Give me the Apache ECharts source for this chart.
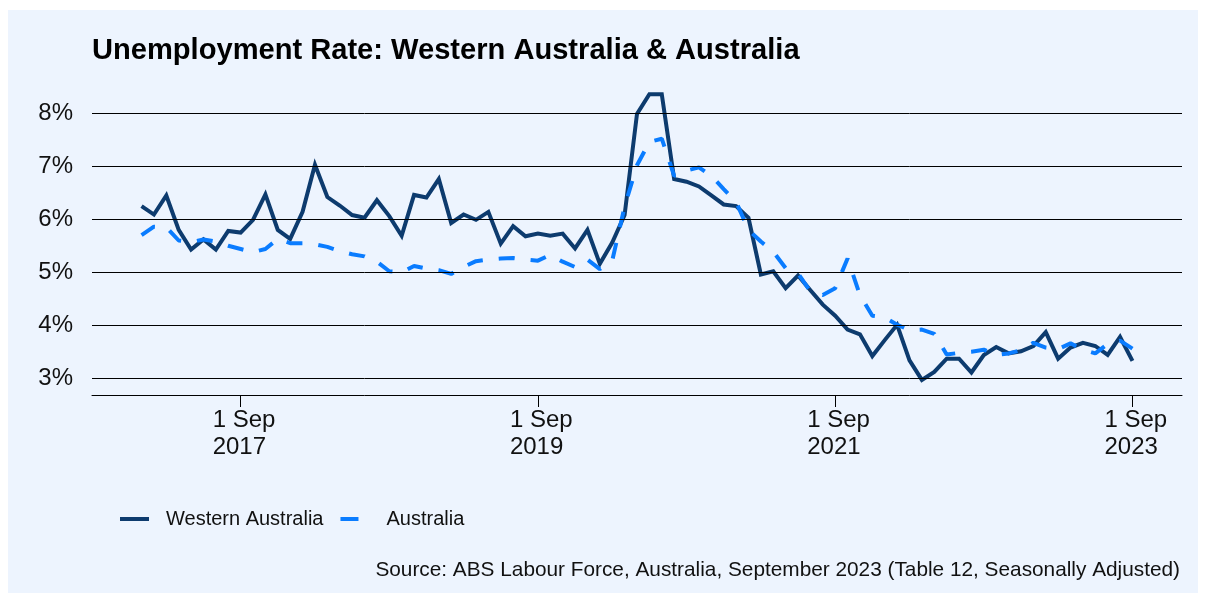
<!DOCTYPE html>
<html>
<head>
<meta charset="utf-8">
<script src="https://cdn.jsdelivr.net/npm/echarts@6/dist/echarts.min.js"></script>
<style>
  html, body { margin: 0; padding: 0; background: #ffffff; }
  #chart { position: absolute; left: 8px; top: 10px; width: 1190px; height: 583px; }
</style>
</head>
<body>
<div id="chart"></div>
<script>
// monthly unemployment rate (%), Jan 2017 - Sep 2023
const waRate = [
  6.25, 6.09, 6.45, 5.80, 5.43, 5.62, 5.43, 5.78, 5.75, 5.99, 6.47, 5.80,
  5.63, 6.14, 7.03, 6.42, 6.26, 6.08, 6.03, 6.36, 6.06, 5.69, 6.46, 6.41,
  6.76, 5.93, 6.09, 5.99, 6.14, 5.54, 5.87, 5.68, 5.73, 5.69, 5.73, 5.45,
  5.80, 5.16, 5.56, 6.08, 7.99, 8.36, 8.36, 6.76, 6.71, 6.62, 6.45, 6.28,
  6.25, 6.03, 4.96, 5.02, 4.70, 4.94, 4.66, 4.39, 4.18, 3.92, 3.83, 3.42,
  3.72, 4.01, 3.34, 2.97, 3.12, 3.37, 3.37, 3.11, 3.44, 3.59, 3.47, 3.51,
  3.61, 3.87, 3.37, 3.58, 3.67, 3.61, 3.44, 3.78, 3.33
]
const ausRate = [
  5.70, 5.86, 5.85, 5.60, 5.57, 5.62, 5.58, 5.50, 5.44, 5.38, 5.44, 5.63,
  5.55, 5.55, 5.53, 5.48, 5.40, 5.34, 5.30, 5.20, 5.02, 5.00, 5.12, 5.07,
  5.04, 4.97, 5.10, 5.21, 5.24, 5.26, 5.27, 5.24, 5.22, 5.33, 5.20, 5.10,
  5.24, 5.06, 5.22, 6.24, 7.02, 7.46, 7.52, 6.82, 6.92, 6.98, 6.82, 6.57,
  6.33, 5.80, 5.58, 5.39, 5.08, 4.98, 4.64, 4.57, 4.70, 5.26, 4.57, 4.18,
  4.15, 4.01, 3.91, 3.92, 3.84, 3.45, 3.48, 3.50, 3.54, 3.44, 3.47, 3.53,
  3.67, 3.58, 3.55, 3.66, 3.54, 3.47, 3.65, 3.71, 3.56
]

// month categories, 2017-01 onwards
const months = []
for (let i = 0; i < waRate.length; i++) {
  const y = 2017 + Math.floor(i / 12)
  const m = (i % 12) + 1
  months.push(y + '-' + (m < 10 ? '0' + m : m))
}

const xTicks = ['2017-09', '2019-09', '2021-09', '2023-09']
const xTickLabels = ['1 Sep\n2017', '1 Sep\n2019', '1 Sep\n2021', '1 Sep\n2023']
const yTicks = [3, 4, 5, 6, 7, 8]

const FONT = '"Liberation Sans", Arial, Helvetica, sans-serif'
const WA_COLOR = '#0D3B6E'
const AUS_COLOR = '#0A7CFF'
const xTickIdx = xTicks.map(t => months.indexOf(t))

const chart = echarts.init(document.getElementById('chart'))

chart.setOption({
  animation: false,
  backgroundColor: '#EDF4FE',
  textStyle: { fontFamily: FONT },
  title: [
    {
      text: 'Unemployment Rate: Western Australia & Australia',
      left: 84,
      top: 26,
      padding: 0,
      textStyle: { fontFamily: FONT, fontSize: 29.1, fontWeight: 'bold', color: '#000' }
    },
    {
      text: 'Source: ABS Labour Force, Australia, September 2023 (Table 12, Seasonally Adjusted)',
      right: 18,
      top: 550,
      padding: 0,
      textStyle: { fontFamily: FONT, fontSize: 20.8, fontWeight: 'normal', color: '#111' }
    }
  ],
  legend: {
    data: [
      // solid bar for WA, one dash (18 of 29 px) for Australia
      { name: 'Western Australia', icon: 'path://M0,0H29V4H0Z' },
      { name: 'Australia', icon: 'path://M0,0H18V4H0Z M28.95,0H29V0.01H28.95Z' }
    ],
    left: 112,
    top: 499,
    padding: 0,
    itemWidth: 29,
    itemHeight: 4,
    itemGap: 17,
    textStyle: { fontFamily: FONT, fontSize: 20, color: '#111', padding: [0, 0, 0, 12] }
  },
  grid: { left: 84, right: 16, top: 79.45, bottom: 198 },
  xAxis: {
    type: 'value',
    min: -4,
    max: 84,
    axisLine: { show: true, lineStyle: { color: '#000', width: 1 } },
    splitLine: { show: false },
    axisTick: { show: true, length: 12, customValues: xTickIdx, lineStyle: { color: '#000' } },
    axisLabel: {
      customValues: xTickIdx,
      margin: 12,
      padding: [0, 0, 0, 7],
      formatter: v => {
        const lines = xTickLabels[xTickIdx.indexOf(v)].split('\n')
        return lines.map(s => '{a|' + s + '}').join('\n')
      },
      rich: {
        a: { width: 63, align: 'left', fontSize: 24, lineHeight: 27, fontFamily: FONT, color: '#111' }
      }
    }
  },
  yAxis: {
    type: 'value',
    min: 2.685,
    max: 8.45,
    axisLine: { show: false },
    axisTick: { show: false },
    splitLine: { show: false },
    axisLabel: {
      customValues: yTicks,
      margin: 19,
      fontSize: 24,
      fontFamily: FONT,
      color: '#111',
      formatter: v => v + '%'
    }
  },
  series: [
    {
      name: 'gridlines',
      type: 'line',
      z: 1,
      data: [],
      markLine: {
        silent: true,
        symbol: 'none',
        label: { show: false },
        lineStyle: { color: '#000', width: 1, type: 'solid' },
        data: yTicks.map(v => ({ yAxis: v }))
      }
    },
    {
      name: 'Western Australia',
      type: 'line',
      z: 3,
      symbol: 'none',
      lineStyle: { color: WA_COLOR, width: 4, join: 'miter' },
      itemStyle: { color: WA_COLOR },
      data: waRate.map((v, i) => [i, v])
    },
    {
      name: 'Australia',
      type: 'line',
      z: 4,
      symbol: 'none',
      lineStyle: { color: AUS_COLOR, width: 4, type: [16, 16], cap: 'butt' },
      itemStyle: { color: AUS_COLOR },
      data: ausRate.map((v, i) => [i, v])
    }
  ]
})
</script>
</body>
</html>
